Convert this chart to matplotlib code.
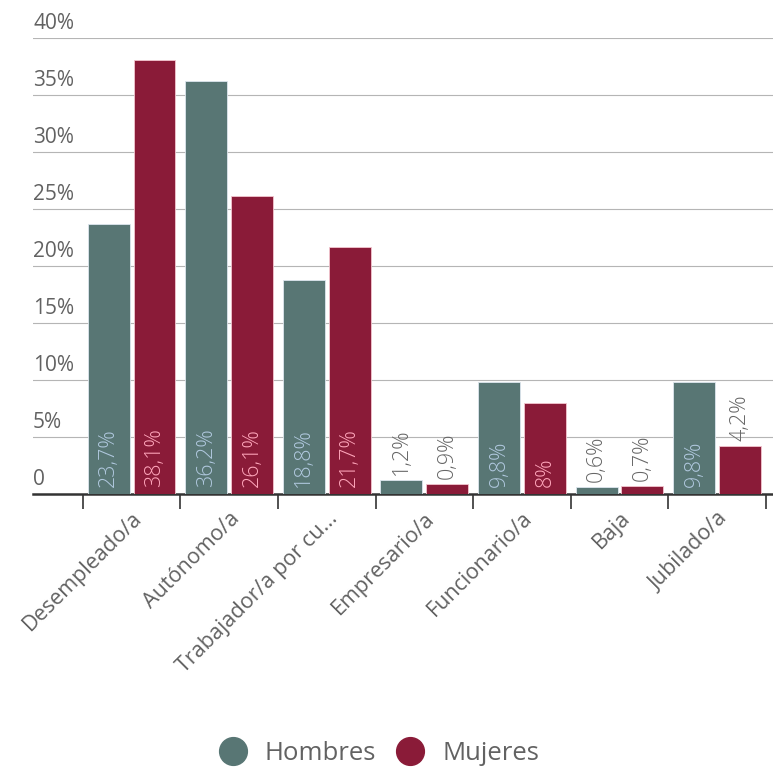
import numpy as np
import matplotlib
matplotlib.use("Agg")
from matplotlib import pyplot as plt
from matplotlib.lines import Line2D
from matplotlib import transforms

plt.rcParams['font.family'] = ['Open Sans', 'DejaVu Sans']

categories = ['Desempleado/a', 'Autónomo/a', 'Trabajador/a por cu...', 'Empresario/a',
              'Funcionario/a', 'Baja', 'Jubilado/a']
hombres = [23.7, 36.2, 18.8, 1.2, 9.8, 0.6, 9.8]
mujeres = [38.1, 26.1, 21.7, 0.9, 8.0, 0.7, 4.2]
hombres_labels = ['23,7%', '36,2%', '18,8%', '1,2%', '9,8%', '0,6%', '9,8%']
mujeres_labels = ['38,1%', '26,1%', '21,7%', '0,9%', '8%', '0,7%', '4,2%']
y_ticks = [0, 5, 10, 15, 20, 25, 30, 35, 40]
y_tick_labels = ['0', '5%', '10%', '15%', '20%', '25%', '30%', '35%', '40%']

c_h = '#587674'
c_m = '#8a1b38'
text_c = '#626262'

fig = plt.figure(figsize=(7.73, 7.71), dpi=100)
ax = fig.add_axes([0.0427, 0.3593, 0.957, 0.5914])

x = np.arange(len(categories))
w = 0.43
off = 0.235
ax.bar(x - off, hombres, w, color=c_h, edgecolor='#dde6ee', linewidth=0.6, zorder=3)
ax.bar(x + off, mujeres, w, color=c_m, edgecolor='#f3c6cf', linewidth=0.6, zorder=3)

ax.set_xlim(-1.01, 6.57)
ax.set_ylim(0, 40)

# value labels: inside the bar at its foot when it fits, above it otherwise
inside = transforms.offset_copy(ax.transData, fig=fig, y=7, units='dots')
above = transforms.offset_copy(ax.transData, fig=fig, y=5, units='dots')
for xs, vals, labs, inner in ((x - off, hombres, hombres_labels, '#b0c8de'),
                              (x + off, mujeres, mujeres_labels, '#ffa6bb')):
    for xi, v, lab in zip(xs, vals, labs):
        if v > 6:
            ax.text(xi, 0, lab, rotation=90, ha='center', va='bottom', fontsize=15.5,
                    fontweight='light', color=inner, transform=inside, zorder=4)
        else:
            ax.text(xi, v, lab, rotation=90, ha='center', va='bottom', fontsize=15.5,
                    fontweight='light', color='#666666', transform=above, zorder=4)

# horizontal grid, with the tick labels sitting on top of each line at the left
ylab_tr = transforms.offset_copy(ax.get_yaxis_transform(), fig=fig, y=4, units='dots')
for yt, lab in zip(y_ticks, y_tick_labels):
    if yt > 0:
        ax.axhline(yt, color='#b5b5b5', linewidth=0.8, zorder=1)
    ax.text(0.0, yt, lab, transform=ylab_tr, ha='left', va='bottom', fontsize=15,
            color=text_c)
ax.set_yticks([])

for side in ('top', 'right', 'left'):
    ax.spines[side].set_visible(False)
ax.spines['bottom'].set_color('#333333')
ax.spines['bottom'].set_linewidth(1.8)

ax.set_xticks(x)
ax.set_xticklabels(categories, rotation=45, ha='right', rotation_mode='anchor',
                   fontsize=15.5, color=text_c)
ax.tick_params(axis='x', which='major', length=0, pad=10)
ax.set_xticks(np.arange(len(categories) + 1) - 0.5, minor=True)
ax.tick_params(axis='x', which='minor', length=11, width=1.2, color='#333333')

handles = [Line2D([], [], marker='o', linestyle='', markersize=20, color=c_h),
           Line2D([], [], marker='o', linestyle='', markersize=20, color=c_m)]
fig.legend(handles, ['Hombres', 'Mujeres'], loc='center', bbox_to_anchor=(0.49, 0.023),
           ncol=2, frameon=False, fontsize=18.5, labelcolor=text_c,
           handlelength=1.1, handletextpad=0.7, columnspacing=0.78)

fig.savefig('out.png', dpi=100, facecolor='white')
